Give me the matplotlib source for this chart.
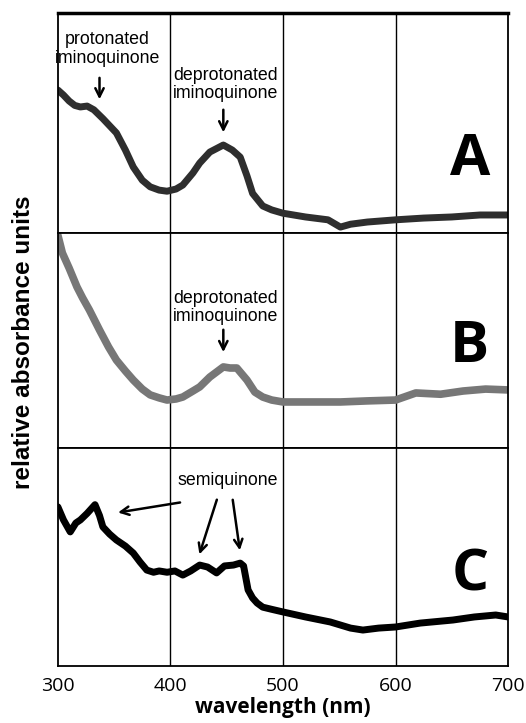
import matplotlib
matplotlib.use("Agg")
import matplotlib.pyplot as plt

# spectra (relative units, 0..1 within each panel)
wl_a = [300, 305, 310, 315, 320, 326, 332, 340, 352, 360, 367, 375, 382, 390, 397,
        405, 411, 420, 426, 435, 447, 455, 462, 468, 473, 482, 490, 500, 520, 540,
        551, 560, 575, 600, 625, 650, 675, 700]
abs_a = [0.65, 0.627, 0.60, 0.58, 0.573, 0.577, 0.56, 0.52, 0.455, 0.377, 0.30, 0.24,
         0.21, 0.195, 0.19, 0.20, 0.218, 0.273, 0.318, 0.368, 0.40, 0.377, 0.345, 0.26,
         0.18, 0.123, 0.105, 0.09, 0.073, 0.06, 0.027, 0.04, 0.05, 0.06, 0.068, 0.073,
         0.082, 0.082]

wl_b = [300, 304, 310, 317, 322, 328, 337, 345, 352, 360, 367, 375, 382, 390, 397,
        405, 411, 420, 426, 435, 447, 453, 459, 468, 475, 482, 490, 500, 520, 551,
        575, 600, 618, 640, 660, 680, 700]
abs_b = [0.99, 0.907, 0.837, 0.749, 0.698, 0.642, 0.549, 0.47, 0.409, 0.358, 0.316,
         0.274, 0.247, 0.233, 0.223, 0.228, 0.237, 0.265, 0.284, 0.33, 0.377, 0.372,
         0.372, 0.316, 0.26, 0.237, 0.223, 0.214, 0.214, 0.214, 0.219, 0.223, 0.256,
         0.25, 0.265, 0.274, 0.27]

wl_c = [300, 305, 311, 316, 320, 326, 333, 337, 340, 346, 352, 360, 367, 373, 379,
        385, 390, 397, 404, 411, 418, 426, 433, 441, 448, 456, 462, 465, 469, 473,
        477, 482, 490, 500, 520, 542, 560, 571, 585, 600, 622, 651, 670, 689, 700]
abs_c = [0.73, 0.67, 0.615, 0.656, 0.67, 0.70, 0.74, 0.69, 0.638, 0.605, 0.578, 0.55,
         0.518, 0.477, 0.44, 0.43, 0.436, 0.43, 0.436, 0.417, 0.436, 0.463, 0.454,
         0.427, 0.459, 0.463, 0.472, 0.459, 0.349, 0.312, 0.289, 0.27, 0.26, 0.248,
         0.225, 0.202, 0.174, 0.165, 0.174, 0.179, 0.197, 0.211, 0.225, 0.234, 0.225]

xticks = [300, 400, 500, 600, 700]
gridlines = [400, 500, 600]

note_font = ["Liberation Sans", "DejaVu Sans"]
note_size = 12.8

fig = plt.figure(figsize=(5.26, 7.23), dpi=100)
left, width = 0.110, 0.856
ax_a = fig.add_axes([left, 0.6777, width, 0.3043])
ax_b = fig.add_axes([left, 0.3804, width, 0.2973])
ax_c = fig.add_axes([left, 0.0788, width, 0.3016])

panels = [
    (ax_a, wl_a, abs_a, "#2e2e2e", 5.0, "A", 0.332),
    (ax_b, wl_b, abs_b, "#777777", 5.5, "B", 0.47),
    (ax_c, wl_c, abs_c, "black", 5.0, "C", 0.417),
]

for ax, wl, ab, col, lw, letter, ly in panels:
    ax.plot(wl, ab, color=col, lw=lw, solid_joinstyle="round", solid_capstyle="round")
    ax.set_xlim(300, 700)
    ax.set_ylim(0, 1)
    ax.set_yticks([])
    for g in gridlines:
        ax.axvline(g, color="black", lw=1.0, zorder=0)
    for s in ax.spines.values():
        s.set_linewidth(1.3)
    ax.text(666, ly, letter, fontsize=42, fontweight="bold", family="Open Sans",
            ha="center", va="center")
    if ax is not ax_c:
        ax.set_xticks([])

ax_a.spines["top"].set_linewidth(2.5)

ax_c.set_xticks(xticks)
ax_c.tick_params(axis="x", length=0, pad=8, labelsize=14)
for t in ax_c.get_xticklabels():
    t.set_family("Open Sans")
ax_c.set_xlabel("wavelength (nm)", fontsize=15, fontweight="bold", family="Open Sans",
                labelpad=1)

fig.text(0.044, 0.527, "relative absorbance units", rotation=90, fontsize=17.5,
         fontweight="bold", family=note_font, ha="center", va="center")

arrow = dict(arrowstyle="->", color="black", lw=1.8, mutation_scale=15)

# panel A notes
ax_a.text(344, 0.836, "protonated\niminoquinone", ha="center", va="center",
          fontsize=note_size, family=note_font, linespacing=1.1)
ax_a.annotate("", xy=(337, 0.595), xytext=(337, 0.718), arrowprops=arrow)
ax_a.text(449, 0.675, "deprotonated\niminoquinone", ha="center", va="center",
          fontsize=note_size, family=note_font, linespacing=1.1)
ax_a.annotate("", xy=(447, 0.445), xytext=(447, 0.573), arrowprops=arrow)

# panel B notes
ax_b.text(449, 0.653, "deprotonated\niminoquinone", ha="center", va="center",
          fontsize=note_size, family=note_font, linespacing=1.1)
ax_b.annotate("", xy=(447, 0.433), xytext=(447, 0.563), arrowprops=arrow)

# panel C notes
ax_c.text(451, 0.853, "semiquinone", ha="center", va="center",
          fontsize=note_size, family=note_font)
ax_c.annotate("", xy=(351, 0.702), xytext=(411, 0.752), arrowprops=arrow)
ax_c.annotate("", xy=(425, 0.50), xytext=(442, 0.775), arrowprops=arrow)
ax_c.annotate("", xy=(462, 0.518), xytext=(455, 0.775), arrowprops=arrow)

fig.savefig("out.png", dpi=100)
